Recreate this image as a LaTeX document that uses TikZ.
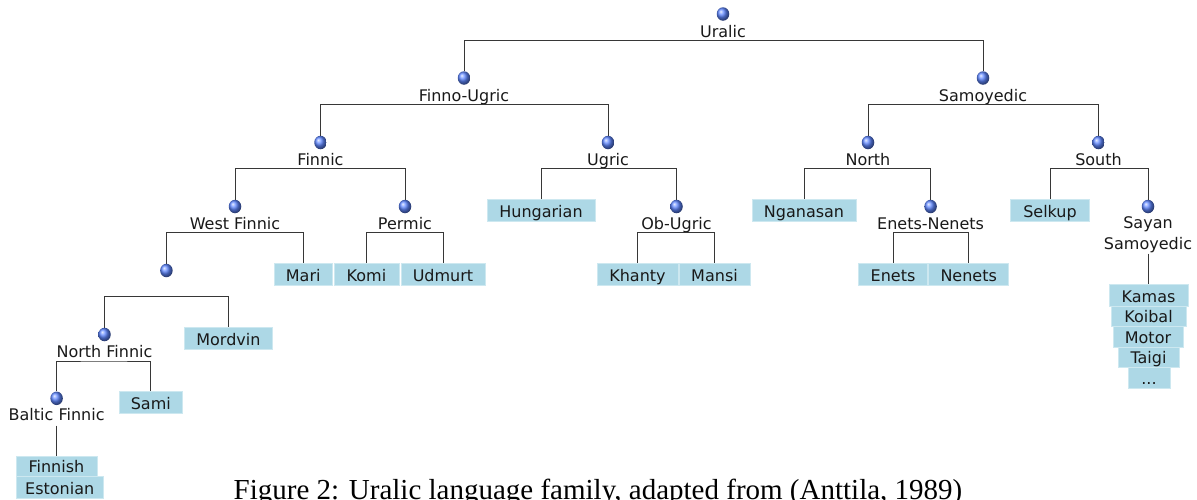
\documentclass[tikz,border=0pt]{standalone}
\usepackage{fontspec}
\setmainfont{DejaVu Sans}
\newfontfamily\capfont{Liberation Serif}
\usetikzlibrary{shapes.geometric}
\definecolor{leafblue}{RGB}{173,216,230}
\definecolor{leafedge}{RGB}{205,232,240}
\definecolor{ballblue}{RGB}{95,135,255}
\definecolor{linegray}{RGB}{55,55,55}
\definecolor{txt}{RGB}{25,25,25}
\tikzset{
  ballnode/.style={ellipse, minimum width=12.5pt, minimum height=13.5pt, inner sep=0pt, shading=ball, ball color=ballblue},
  lab/.style={font=\fontsize{16}{19}\selectfont, text=txt, inner sep=1pt, align=center, text height=11.5pt, text depth=3.5pt},
  leaf/.style={font=\fontsize{16}{19}\selectfont, text=txt, fill=leafblue, draw=leafedge, line width=0.8pt, inner sep=0pt, text height=18pt, text depth=4pt},
  leafsm/.style={leaf, text height=16pt, text depth=4pt},
  conn/.style={draw=linegray, line width=1pt}
}
\begin{document}
\begin{tikzpicture}[x=1pt,y=-1pt]
\useasboundingbox (0,0) rectangle (1197,499);
\clip (0,0) rectangle (1197,499);

% internal nodes: balls
\node[ballnode] (b-ur) at (723,14) {};
\node[ballnode] (b-fu) at (464,78) {};
\node[ballnode] (b-sa) at (983,78) {};
\node[ballnode] (b-fi) at (320.5,142.5) {};
\node[ballnode] (b-ug) at (608,142.5) {};
\node[ballnode] (b-no) at (868,142.5) {};
\node[ballnode] (b-so) at (1098.5,142.5) {};
\node[ballnode] (b-wf) at (235,206.5) {};
\node[ballnode] (b-pe) at (405,206.5) {};
\node[ballnode] (b-ob) at (676.5,206.5) {};
\node[ballnode] (b-en) at (930.6,206.5) {};
\node[ballnode] (b-sy) at (1148,206.5) {};
\node[ballnode] (b-un) at (166.4,270.5) {};
\node[ballnode] (b-nf) at (104.5,334.5) {};
\node[ballnode] (b-bf) at (56.6,398.3) {};

% labels
\node[lab] (l-ur) at (723,33) {Uralic};
\node[lab] (l-fu) at (464,97) {Finno-Ugric};
\node[lab] (l-sa) at (983,97) {Samoyedic};
\node[lab] (l-fi) at (320.5,161) {Finnic};
\node[lab] (l-ug) at (608,161) {Ugric};
\node[lab] (l-no) at (868,161) {North};
\node[lab] (l-so) at (1098.5,161) {South};
\node[lab] (l-wf) at (235,225) {West Finnic};
\node[lab] (l-pe) at (405,225) {Permic};
\node[lab] (l-ob) at (676.5,225) {Ob-Ugric};
\node[lab] (l-en) at (930.6,225) {Enets-Nenets};
\node[lab,font=\fontsize{16}{20.5}\selectfont,text height=,text depth=] (l-sy) at (1148,234.5) {Sayan\\Samoyedic};
\node[lab] (l-nf) at (104.5,353) {North Finnic};
\node[lab] (l-bf) at (56.6,416.8) {Baltic Finnic};

% leaves
\node[leaf,minimum width=108pt] (hu) at (541,210) {Hungarian};
\node[leaf,minimum width=104pt] (ng) at (804,210) {Nganasan};
\node[leaf,minimum width=79pt] (se) at (1050,210) {Selkup};
\node[leaf,minimum width=58pt] (ma) at (303.2,274) {Mari};
\node[leaf,minimum width=65pt] (ko) at (366.5,274) {Komi};
\node[leaf,minimum width=84pt] (ud) at (443,274) {Udmurt};
\node[leaf,minimum width=81pt] (kh) at (637.5,274) {Khanty};
\node[leaf,minimum width=71pt] (mn) at (714.5,274) {Mansi};
\node[leaf,minimum width=69pt] (en) at (893,274) {Enets};
\node[leaf,minimum width=80pt] (ne) at (968.7,274) {Nenets};
\node[leaf,minimum width=88pt] (mo) at (228.4,338.4) {Mordvin};
\node[leaf,minimum width=63.5pt] (sm) at (150.8,402.5) {Sami};
\node[leafsm,minimum width=81pt] (fn) at (56.4,466) {Finnish};
\node[leaf,minimum width=87pt] (es) at (59.7,487) {Estonian};
\node[leaf,minimum width=79pt] (ka) at (1148.5,295) {Kamas};
\node[leafsm,minimum width=75pt] (kb) at (1148.5,316) {Koibal};
\node[leafsm,text height=17pt,minimum width=70pt] (mt) at (1148,336.5) {Motor};
\node[leafsm,minimum width=61pt] (ta) at (1148.5,357) {Taigi};
\node[leafsm,text height=17pt,minimum width=42pt] (dd) at (1149,377.5) {...};

% junction coordinates
\coordinate (j-ur) at (723,40.7);
\coordinate (j-fu) at (464,104.7);
\coordinate (j-sa) at (983,104.7);
\coordinate (j-fi) at (320.5,168.7);
\coordinate (j-ug) at (608,168.7);
\coordinate (j-no) at (868,168.7);
\coordinate (j-so) at (1098.5,168.7);
\coordinate (j-wf) at (235,232.7);
\coordinate (j-pe) at (405,232.7);
\coordinate (j-ob) at (676.5,232.7);
\coordinate (j-en) at (930.6,232.7);
\coordinate (j-un) at (166.4,296.7);
\coordinate (j-nf) at (104.5,361);

% connectors
\draw[conn] (b-fu.north) |- (j-ur) -| (b-sa.north);
\draw[conn] (b-fi.north) |- (j-fu) -| (b-ug.north);
\draw[conn] (b-no.north) |- (j-sa) -| (b-so.north);
\draw[conn] (b-wf.north) |- (j-fi) -| (b-pe.north);
\draw[conn] (hu.north) |- (j-ug) -| (b-ob.north);
\draw[conn] (ng.north) |- (j-no) -| (b-en.north);
\draw[conn] (se.north) |- (j-so) -| (b-sy.north);
\draw[conn] (b-un.north) |- (j-wf) -| (ma.north);
\draw[conn] (ko.north) |- (j-pe) -| (ud.north);
\draw[conn] (kh.north) |- (j-ob) -| (mn.north);
\draw[conn] (en.north) |- (j-en) -| (ne.north);
\draw[conn] (b-nf.north) |- (j-un) -| (mo.north);
\draw[conn] (b-bf.north) |- (j-nf) -| (sm.north);
\draw[conn] (l-bf.south) -- (l-bf.south |- fn.north);
\draw[conn] (l-sy.south) -- (l-sy.south |- ka.north);

% caption (cut by the lower edge, as in the reference)
\node[font=\fontsize{29}{34}\selectfont\capfont, anchor=base, inner sep=0pt] (cap) at (598,499.5) {Figure 2: Uralic language family, adapted from (Anttila, 1989)};
\end{tikzpicture}
\end{document}
